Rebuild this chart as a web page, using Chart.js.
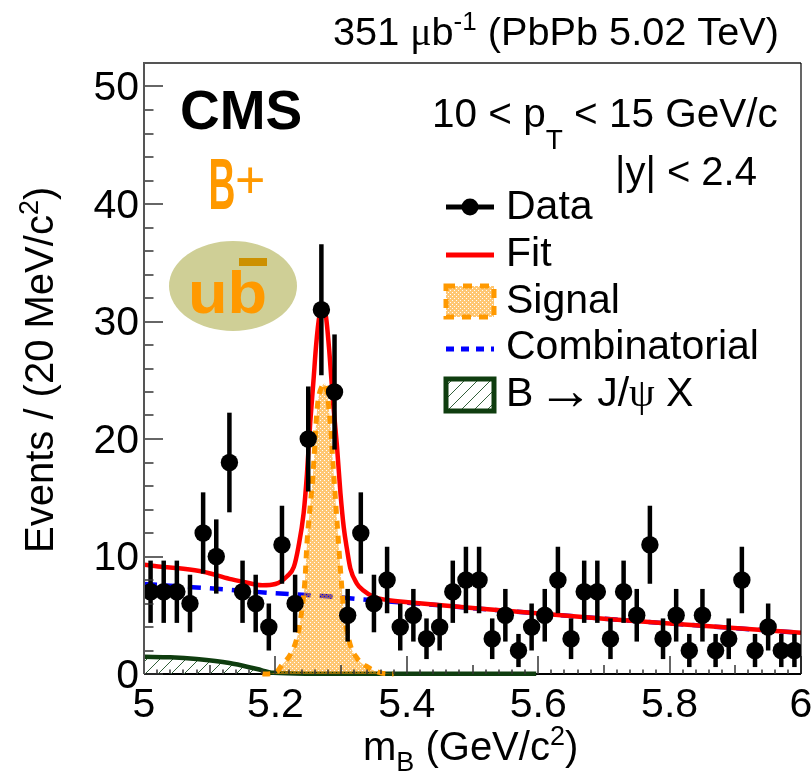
<!DOCTYPE html>
<html>
<head>
<meta charset="utf-8">
<title>B+ mass fit</title>
<script src="https://cdn.jsdelivr.net/npm/chart.js@4"></script>
<style>
    html, body { margin: 0; padding: 0; background: #fff; }
    canvas { display: block; }
</style>
</head>
<body>
<canvas id="chart" width="812" height="771"></canvas>
<script>
// Data points, bin width 20 MeV
const massCenters = [5.01, 5.03, 5.05, 5.07, 5.09, 5.11, 5.13, 5.15, 5.17, 5.19,
    5.21, 5.23, 5.25, 5.27, 5.29, 5.31, 5.33, 5.35, 5.37, 5.39,
    5.41, 5.43, 5.45, 5.47, 5.49, 5.51, 5.53, 5.55, 5.57, 5.59,
    5.61, 5.63, 5.65, 5.67, 5.69, 5.71, 5.73, 5.75, 5.77, 5.79,
    5.81, 5.83, 5.85, 5.87, 5.89, 5.91, 5.93, 5.95, 5.97, 5.99]
const counts = [7, 7, 7, 6, 12, 10, 18, 7, 6, 4,
    11, 6, 20, 31, 24, 5, 12, 6, 8, 4,
    5, 3, 4, 7, 8, 8, 3, 5, 2, 4,
    5, 8, 3, 7, 7, 3, 7, 5, 11, 3,
    5, 2, 5, 2, 3, 8, 2, 4, 2, 2]
const countErrors = [2.65, 2.65, 2.65, 2.45, 3.46, 3.16, 4.24, 2.65, 2.45, 2,
    3.32, 2.45, 4.47, 5.57, 4.9, 2.24, 3.46, 2.45, 2.83, 2,
    2.24, 1.73, 2, 2.65, 2.83, 2.83, 1.73, 2.24, 1.41, 2,
    2.24, 2.83, 1.73, 2.65, 2.65, 1.73, 2.65, 2.24, 3.32, 1.73,
    2.24, 1.41, 2.24, 1.41, 1.73, 2.83, 1.41, 2, 1.41, 1.41]

// Curves
const fitMass = [5.0, 5.03, 5.06, 5.09, 5.13, 5.15, 5.18, 5.2, 5.2175, 5.228, 5.235, 5.243, 5.248, 5.253, 5.258, 5.262, 5.267,
    5.272, 5.277, 5.282, 5.288, 5.2937, 5.299, 5.304, 5.309, 5.314, 5.324, 5.334, 5.35, 5.37, 5.41, 5.5, 5.7, 5.85, 6.0]
const fitValues = [9.3, 9.1, 8.95, 8.7, 8.1, 7.86, 7.55, 7.66, 8.3, 9.1, 10.8, 13.7, 17, 21.4, 25, 28, 30.5,
    31.2, 30.4, 27.5, 23, 19.4, 15.4, 12.5, 10.6, 9, 7.7, 7.1, 6.55, 6.3, 6.07, 5.62, 4.7, 4.1, 3.5]

const signalMass = [5.18, 5.2, 5.21, 5.224, 5.232, 5.237, 5.245, 5.248, 5.253, 5.257, 5.263, 5.265, 5.271, 5.275,
    5.2835, 5.288, 5.294, 5.299, 5.304, 5.314, 5.324, 5.34, 5.36, 5.38]
const signalValues = [0, 0.1, 0.77, 1.77, 2.9, 4.2, 8, 11.1, 14.3, 16.8, 22.2, 23.3, 24.5, 24.7,
    21.4, 17.6, 12.8, 8.9, 5.45, 2.47, 1.36, 0.6, 0.1, 0]

const combMass = [5.0, 5.124, 5.192, 5.283, 5.33, 5.45, 5.5, 5.7, 5.85, 6.0]
const combValues = [7.66, 7.2, 6.9, 6.6, 6.35, 5.85, 5.6, 4.7, 4.1, 3.5]

const jpsiMass = [5.0, 5.04, 5.08, 5.13, 5.172, 5.197, 5.25, 5.4, 5.597]
const jpsiValues = [1.47, 1.42, 1.27, 0.93, 0.42, 0.1, 0.03, 0.02, 0.02]

const xTickLabels = [5, 5.2, 5.4, 5.6, 5.8, 6]
const yTickLabels = [0, 10, 20, 30, 40, 50]
const legendLabels = ['Data', 'Fit', 'Signal', 'Combinatorial']

const FONT = '"Liberation Sans"'
const SYMBOL_FONT = '"Liberation Serif"'
const ORANGE = '#ff9900'
const DARK_GREEN = '#0f3d0f'

function toPoints(xs, ys) {
    return xs.map((x, i) => ({ x: x, y: ys[i] }))
}

function dotPattern() {
    const tile = document.createElement('canvas')
    tile.width = 4
    tile.height = 4
    const c = tile.getContext('2d')
    c.fillStyle = 'rgba(255,153,0,0.55)'
    c.fillRect(0, 0, 4, 4)
    c.clearRect(0, 0, 1, 1)
    c.clearRect(2, 2, 1, 1)
    return c.createPattern(tile, 'repeat')
}

function hatchPattern() {
    const tile = document.createElement('canvas')
    tile.width = 13
    tile.height = 13
    const c = tile.getContext('2d')
    c.strokeStyle = '#33603a'
    c.lineWidth = 1
    c.beginPath()
    c.moveTo(-1, 14)
    c.lineTo(14, -1)
    c.stroke()
    return c.createPattern(tile, 'repeat')
}

// Draw text runs with sub/superscripts. Each run: [text, size, dy, family]
function drawRuns(ctx, x, y, runs) {
    let cx = x
    runs.forEach(r => {
        ctx.font = `${r[1]}px ${r[3] || FONT}`
        ctx.fillText(r[0], cx, y + (r[2] || 0))
        cx += ctx.measureText(r[0]).width
    })
}

const axisPlugin = {
    id: 'axisPlugin',
    beforeDatasetsDraw(chart) {
        // bottom axis line goes under the curves
        const { ctx, chartArea: a } = chart
        ctx.save()
        ctx.strokeStyle = '#000'
        ctx.lineWidth = 2
        ctx.beginPath()
        ctx.moveTo(a.left, a.bottom)
        ctx.lineTo(a.right, a.bottom)
        ctx.stroke()
        ctx.restore()
    },
    afterDatasetsDraw(chart) {
        const { ctx, chartArea: a, scales } = chart
        ctx.save()
        // error bars
        ctx.strokeStyle = '#000'
        ctx.lineWidth = 4.5
        massCenters.forEach((m, i) => {
            const px = scales.x.getPixelForValue(m)
            ctx.beginPath()
            ctx.moveTo(px, scales.y.getPixelForValue(Math.max(counts[i] - countErrors[i], 0)))
            ctx.lineTo(px, scales.y.getPixelForValue(counts[i] + countErrors[i]))
            ctx.stroke()
        })
        // inward ticks
        ctx.strokeStyle = '#333'
        ctx.lineWidth = 1.5
        for (let k = 0; k <= 26; k++) {
            const py = Math.round(scales.y.getPixelForValue(k * 2))
            ctx.beginPath()
            ctx.moveTo(a.left, py)
            ctx.lineTo(a.left + (k % 5 === 0 ? 19 : 9.5), py)
            ctx.stroke()
        }
        for (let k = 0; k <= 50; k++) {
            const px = Math.round(scales.x.getPixelForValue(5 + k * 0.02))
            const len = k % 10 === 0 ? 18 : (k % 5 === 0 ? 9 : 4.5)
            ctx.beginPath()
            ctx.moveTo(px, a.bottom)
            ctx.lineTo(px, a.bottom - len)
            ctx.stroke()
        }
        // frame
        ctx.strokeStyle = '#555'
        ctx.lineWidth = 2
        ctx.beginPath()
        ctx.moveTo(a.left, a.bottom)
        ctx.lineTo(a.left, a.top)
        ctx.lineTo(a.right, a.top)
        ctx.stroke()
        ctx.strokeStyle = '#000'
        ctx.lineWidth = 1.2
        ctx.beginPath()
        ctx.moveTo(a.right, a.top)
        ctx.lineTo(a.right, a.bottom)
        ctx.stroke()
        ctx.restore()
    }
}

const textPlugin = {
    id: 'textPlugin',
    afterDraw(chart) {
        const ctx = chart.ctx
        ctx.save()
        ctx.fillStyle = '#000'
        ctx.textBaseline = 'alphabetic'
        ctx.textAlign = 'left'

        // header
        drawRuns(ctx, 333, 45, [['351 ', 39.7], ['\u03BC', 39.7, 0, SYMBOL_FONT], ['b', 39.7], ['-1', 26, -15], [' (PbPb 5.02 TeV)', 39.7]])
        drawRuns(ctx, 432, 127, [['10 < p', 40.5], ['T', 28, 22], [' < 15 GeV/c', 40.5]])
        drawRuns(ctx, 615, 185, [['|y| < 2.4', 40]])
        ctx.font = `bold 55px ${FONT}`
        ctx.fillText('CMS', 180, 129)

        // axis titles
        drawRuns(ctx, 363, 760, [['m', 40], ['B', 27, 11], [' (GeV/c', 40], ['2', 27, -15], [')', 40]])
        ctx.save()
        ctx.translate(53, 553)
        ctx.rotate(-Math.PI / 2)
        drawRuns(ctx, 0, 0, [['Events / (20 MeV/c', 40], ['2', 27, -15], [')', 40]])
        ctx.restore()

        // B+ logo
        ctx.fillStyle = '#cfcf96'
        ctx.beginPath()
        ctx.ellipse(233, 286, 64, 45, 0, 0, Math.PI * 2)
        ctx.fill()
        ctx.fillStyle = '#cc9000'
        ctx.fillRect(239, 258, 28, 8)
        ctx.fillStyle = ORANGE
        ctx.save()
        ctx.translate(188, 313)
        ctx.scale(1.08, 1)
        ctx.font = `bold 60px ${FONT}`
        ctx.fillText('ub', 0, 0)
        ctx.restore()
        ctx.save()
        ctx.translate(208.5, 209)
        ctx.scale(0.62, 1.19)
        ctx.font = `bold 60px ${FONT}`
        ctx.fillText('B', 0, 0)
        ctx.restore()
        ctx.font = `52px ${FONT}`
        ctx.fillText('+', 235, 198)

        // legend
        const lx = 506
        const rowY = [219, 266, 313, 359, 406]
        ctx.fillStyle = '#000'
        ctx.font = `41px ${FONT}`
        legendLabels.forEach((t, i) => ctx.fillText(t, lx, rowY[i]))
        drawRuns(ctx, lx, rowY[4], [['B', 41], [' ', 14], ['\u2192', 56, 3, SYMBOL_FONT], [' ', 14], ['J/', 41], ['\u03C8', 41, 0, SYMBOL_FONT], [' X', 41]])

        ctx.strokeStyle = '#000'
        ctx.lineWidth = 5
        ctx.beginPath()
        ctx.moveTo(446, 207)
        ctx.lineTo(494, 207)
        ctx.stroke()
        ctx.beginPath()
        ctx.arc(470, 207, 8.5, 0, Math.PI * 2)
        ctx.fill()

        ctx.strokeStyle = '#ff0000'
        ctx.beginPath()
        ctx.moveTo(446, 255)
        ctx.lineTo(494, 255)
        ctx.stroke()

        ctx.fillStyle = chart.data.datasets[2].backgroundColor
        ctx.fillRect(446, 286, 48, 31)
        ctx.strokeStyle = ORANGE
        ctx.setLineDash([9, 8])
        ctx.strokeRect(446, 286, 48, 31)

        ctx.strokeStyle = '#0000ff'
        ctx.setLineDash([8, 7])
        ctx.beginPath()
        ctx.moveTo(446, 349)
        ctx.lineTo(494, 349)
        ctx.stroke()
        ctx.setLineDash([])

        ctx.fillStyle = chart.data.datasets[4].backgroundColor
        ctx.fillRect(446, 379, 48, 32)
        ctx.strokeStyle = DARK_GREEN
        ctx.strokeRect(446, 379, 48, 32)
        ctx.restore()
    }
}

new Chart(document.getElementById('chart').getContext('2d'), {
    type: 'scatter',
    data: {
        datasets: [
            {
                label: 'Data',
                data: toPoints(massCenters, counts),
                showLine: false,
                pointRadius: 8.7,
                pointBackgroundColor: '#000',
                pointBorderWidth: 0,
                order: 0
            },
            {
                label: 'Fit',
                data: toPoints(fitMass, fitValues),
                showLine: true,
                borderColor: '#ff0000',
                borderWidth: 4.5,
                pointRadius: 0,
                cubicInterpolationMode: 'monotone',
                order: 1
            },
            {
                label: 'Signal',
                data: toPoints(signalMass, signalValues),
                showLine: true,
                borderColor: ORANGE,
                borderWidth: 5,
                borderDash: [8, 7],
                backgroundColor: dotPattern(),
                fill: 'origin',
                clip: 4,
                pointRadius: 0,
                cubicInterpolationMode: 'monotone',
                order: 2
            },
            {
                label: 'Combinatorial',
                data: toPoints(combMass, combValues),
                showLine: true,
                borderColor: '#0000ff',
                borderWidth: 4.5,
                borderDash: [13, 9],
                pointRadius: 0,
                order: 3
            },
            {
                label: 'B \u2192 J/\u03C8 X',
                data: toPoints(jpsiMass, jpsiValues),
                showLine: true,
                borderColor: DARK_GREEN,
                borderWidth: 4.5,
                backgroundColor: hatchPattern(),
                fill: 'origin',
                clip: 4,
                pointRadius: 0,
                cubicInterpolationMode: 'monotone',
                order: 4
            }
        ]
    },
    options: {
        responsive: false,
        animation: false,
        layout: { padding: { top: 63, right: 11, left: 0, bottom: 0 } },
        plugins: { legend: { display: false }, tooltip: { enabled: false } },
        scales: {
            x: {
                type: 'linear',
                min: 5,
                max: 6,
                afterFit: s => {
                    s.height = 97
                    s.paddingLeft = 0
                    s.paddingRight = 0
                },
                afterBuildTicks: s => { s.ticks = xTickLabels.map(v => ({ value: v })) },
                grid: { display: false, drawTicks: false },
                border: { display: false },
                ticks: {
                    color: '#000',
                    padding: 7,
                    maxRotation: 0,
                    font: { family: FONT, size: 41 },
                    callback: v => String(v)
                }
            },
            y: {
                min: 0,
                max: 52,
                afterFit: s => {
                    s.width = 144
                    s.paddingTop = 0
                    s.paddingBottom = 0
                },
                afterBuildTicks: s => { s.ticks = yTickLabels.map(v => ({ value: v })) },
                grid: { display: false, drawTicks: false },
                border: { display: false },
                ticks: {
                    color: '#000',
                    padding: 5,
                    labelOffset: 2.5,
                    font: { family: FONT, size: 41 },
                    callback: v => String(v)
                }
            }
        }
    },
    plugins: [axisPlugin, textPlugin]
})
</script>
</body>
</html>
